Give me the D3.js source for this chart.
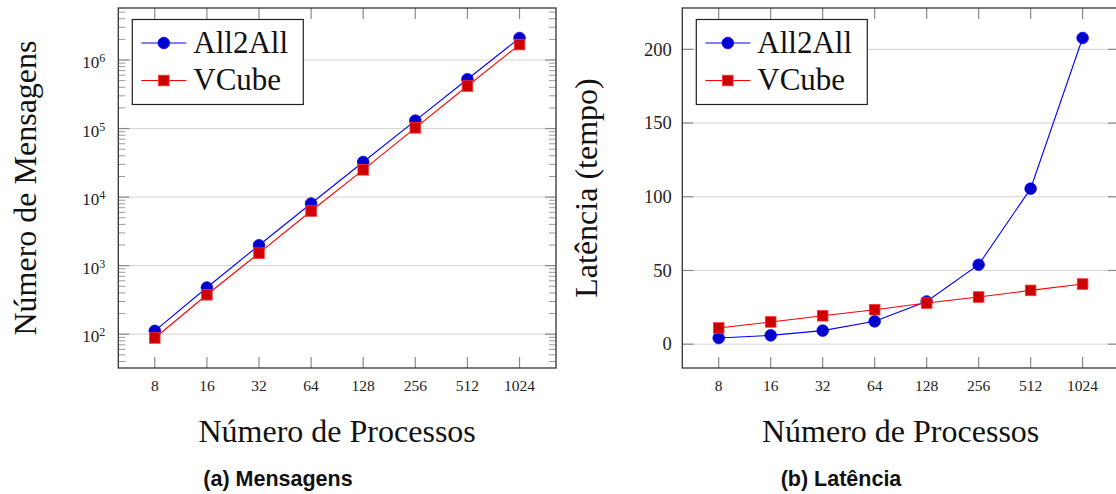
<!DOCTYPE html>
<html>
<head>
<meta charset="utf-8">
<script src="https://cdn.jsdelivr.net/npm/d3@7"></script>
<style>
  body { margin: 0; background: #fff; }
  svg { display: block; }
  .tick-label { font-family: 'Liberation Serif', 'Times New Roman', serif; font-size: 15.5px; fill: #222; }
  .y-label { font-size: 18.5px; }
  .axis-title { font-family: 'Liberation Serif', 'Times New Roman', serif; font-size: 32px; fill: #111; }
  .legend-text { font-family: 'Liberation Serif', 'Times New Roman', serif; font-size: 31px; fill: #111; }
  .caption { font-family: 'Liberation Sans', Arial, sans-serif; font-size: 21.5px; font-weight: bold; fill: #111; }
</style>
</head>
<body>
<div id="chart"></div>
<script>
// data
const processes = [8, 16, 32, 64, 128, 256, 512, 1024];
const msgAll2All = [112, 480, 1984, 8064, 32512, 130560, 523264, 2095104];
const msgVCube = [88, 376, 1520, 6272, 24960, 102400, 417000, 1680000];
const latAll2All = [4.2, 6.0, 9.2, 15.5, 29.0, 53.9, 105.5, 207.7];
const latVCube = [11.0, 15.1, 19.3, 23.4, 27.9, 32.0, 36.5, 40.8];
const seriesNames = ['All2All', 'VCube'];
const latTicks = [0, 50, 100, 150, 200];
const msgTicks = [1e2, 1e3, 1e4, 1e5, 1e6];

const width = 1116;
const height = 494;

const svg = d3.select('#chart')
  .append('svg')
  .attr('width', width)
  .attr('height', height);

const styles = [
  { line: '#0000ff', fill: '#0000cc', stroke: '#0000ff', mark: 'circle' },
  { line: '#ff0000', fill: '#cc0000', stroke: '#ff3333', mark: 'square' },
];

// pgfplots style: enlarge limits by 10% of data range
function enlarge(lo, hi) {
  const pad = (hi - lo) * 0.1;
  return [lo - pad, hi + pad];
}

const xExp = enlarge(Math.log2(d3.min(processes)), Math.log2(d3.max(processes)));
const xDomain = xExp.map((e) => Math.pow(2, e));

function drawPanel(opts) {
  const { left, right, top, bottom, series, log, yTicks, title, yTitle, yTitleX, caption, captionX } = opts;
  const g = svg.append('g');

  const x = d3.scaleLog().base(2).domain(xDomain).range([left, right]);

  const all = series.flat();
  let y;
  if (log) {
    const e = enlarge(Math.log10(d3.min(all)), Math.log10(d3.max(all)));
    y = d3.scaleLog().domain(e.map((v) => Math.pow(10, v))).range([bottom, top]);
  } else {
    y = d3.scaleLinear().domain(enlarge(d3.min(all), d3.max(all))).range([bottom, top]);
  }

  // horizontal gridlines
  g.append('g')
    .selectAll('line')
    .data(yTicks)
    .join('line')
    .attr('x1', left).attr('x2', right)
    .attr('y1', (d) => y(d)).attr('y2', (d) => y(d))
    .attr('stroke', '#d2d2d2')
    .attr('stroke-width', 1);

  // minor ticks on log axis
  if (log) {
    const minor = [];
    const [d0, d1] = y.domain();
    for (let k = Math.floor(Math.log10(d0)); k <= Math.ceil(Math.log10(d1)); k++) {
      for (let m = 2; m <= 9; m++) {
        const v = m * Math.pow(10, k);
        if (v > d0 && v < d1) minor.push(v);
      }
    }
    [[left, 7], [right, -7]].forEach(([x0, len]) => {
      g.append('g')
        .selectAll('line')
        .data(minor)
        .join('line')
        .attr('x1', x0).attr('x2', x0 + len)
        .attr('y1', (d) => y(d)).attr('y2', (d) => y(d))
        .attr('stroke', '#9a9a9a')
        .attr('stroke-width', 1);
    });
  }

  // major y ticks, both sides
  [[left, 11], [right, -11]].forEach(([x0, len]) => {
    g.append('g')
      .selectAll('line')
      .data(yTicks)
      .join('line')
      .attr('x1', x0).attr('x2', x0 + len)
      .attr('y1', (d) => y(d)).attr('y2', (d) => y(d))
      .attr('stroke', '#8a8a8a')
      .attr('stroke-width', 1.2);
  });

  // x ticks, top and bottom
  [[bottom, -11], [top, 11]].forEach(([y0, len]) => {
    g.append('g')
      .selectAll('line')
      .data(processes)
      .join('line')
      .attr('x1', (d) => x(d)).attr('x2', (d) => x(d))
      .attr('y1', y0).attr('y2', y0 + len)
      .attr('stroke', '#8a8a8a')
      .attr('stroke-width', 1.2);
  });

  // x tick labels
  g.append('g')
    .selectAll('text')
    .data(processes)
    .join('text')
    .attr('class', 'tick-label')
    .attr('x', (d) => x(d))
    .attr('y', bottom + 23)
    .attr('text-anchor', 'middle')
    .text((d) => d);

  // y tick labels
  const yl = g.append('g')
    .selectAll('text')
    .data(yTicks)
    .join('text')
    .attr('class', 'tick-label y-label')
    .attr('text-anchor', 'end');
  if (log) {
    yl.attr('x', left - 13).attr('y', (d) => y(d) + 8).style('font-size', '17px');
    yl.append('tspan').text('10');
    yl.append('tspan')
      .attr('dy', '-0.5em')
      .style('font-size', '12px')
      .text((d) => Math.round(Math.log10(d)));
  } else {
    yl.attr('x', left - 10.5).attr('y', (d) => y(d) + 6.3).text((d) => d);
  }

  // lines and marks
  const line = d3.line().x((d) => x(d[0])).y((d) => y(d[1]));
  series.forEach((vals, i) => {
    const pts = processes.map((p, j) => [p, vals[j]]);
    g.append('path')
      .datum(pts)
      .attr('d', line)
      .attr('fill', 'none')
      .attr('stroke', styles[i].line)
      .attr('stroke-width', 1.1);
    drawMarks(g, pts.map((d) => [x(d[0]), y(d[1])]), styles[i]);
  });

  // frame
  g.append('rect')
    .attr('x', left).attr('y', top)
    .attr('width', right - left).attr('height', bottom - top)
    .attr('fill', 'none')
    .attr('stroke', '#333')
    .attr('stroke-width', 1.3);

  // legend
  const lx = left + 14, ly = top + 11.5;
  const lg = g.append('g');
  lg.append('rect')
    .attr('x', lx).attr('y', ly)
    .attr('width', 171).attr('height', 85)
    .attr('fill', '#fff')
    .attr('stroke', '#222')
    .attr('stroke-width', 1.2);
  seriesNames.forEach((name, i) => {
    const cy = ly + 23.5 + i * 37.5;
    lg.append('line')
      .attr('x1', lx + 9).attr('x2', lx + 54)
      .attr('y1', cy).attr('y2', cy)
      .attr('stroke', styles[i].line)
      .attr('stroke-width', 1.1);
    drawMarks(lg, [[lx + 31.5, cy]], styles[i]);
    lg.append('text')
      .attr('class', 'legend-text')
      .attr('x', lx + 61)
      .attr('y', cy + 9.5)
      .text(name);
  });

  // titles
  g.append('text')
    .attr('class', 'axis-title')
    .attr('x', (left + right) / 2)
    .attr('y', 442)
    .attr('text-anchor', 'middle')
    .text(title);
  g.append('text')
    .attr('class', 'axis-title')
    .attr('transform', `translate(${yTitleX}, ${(top + bottom) / 2}) rotate(-90)`)
    .attr('text-anchor', 'middle')
    .text(yTitle);
  g.append('text')
    .attr('class', 'caption')
    .attr('x', captionX)
    .attr('y', 485.5)
    .attr('text-anchor', 'middle')
    .text(caption);
}

function drawMarks(g, pts, st) {
  if (st.mark === 'circle') {
    g.append('g')
      .selectAll('circle')
      .data(pts)
      .join('circle')
      .attr('cx', (d) => d[0]).attr('cy', (d) => d[1])
      .attr('r', 5.8)
      .attr('fill', st.fill)
      .attr('stroke', st.stroke)
      .attr('stroke-width', 0.8);
  } else {
    const s = 10.6;
    g.append('g')
      .selectAll('rect')
      .data(pts)
      .join('rect')
      .attr('x', (d) => d[0] - s / 2).attr('y', (d) => d[1] - s / 2)
      .attr('width', s).attr('height', s)
      .attr('fill', st.fill)
      .attr('stroke', st.stroke)
      .attr('stroke-width', 0.8);
  }
}

drawPanel({
  left: 118.3, right: 556, top: 8, bottom: 368,
  series: [msgAll2All, msgVCube], log: true, yTicks: msgTicks,
  title: 'Número de Processos', yTitle: 'Número de Mensagens', yTitleX: 35.5,
  caption: '(a) Mensagens', captionX: 278,
});

drawPanel({
  left: 682.3, right: 1119, top: 8, bottom: 368,
  series: [latAll2All, latVCube], log: false, yTicks: latTicks,
  title: 'Número de Processos', yTitle: 'Latência (tempo)', yTitleX: 597,
  caption: '(b) Latência', captionX: 841,
});
</script>
</body>
</html>
